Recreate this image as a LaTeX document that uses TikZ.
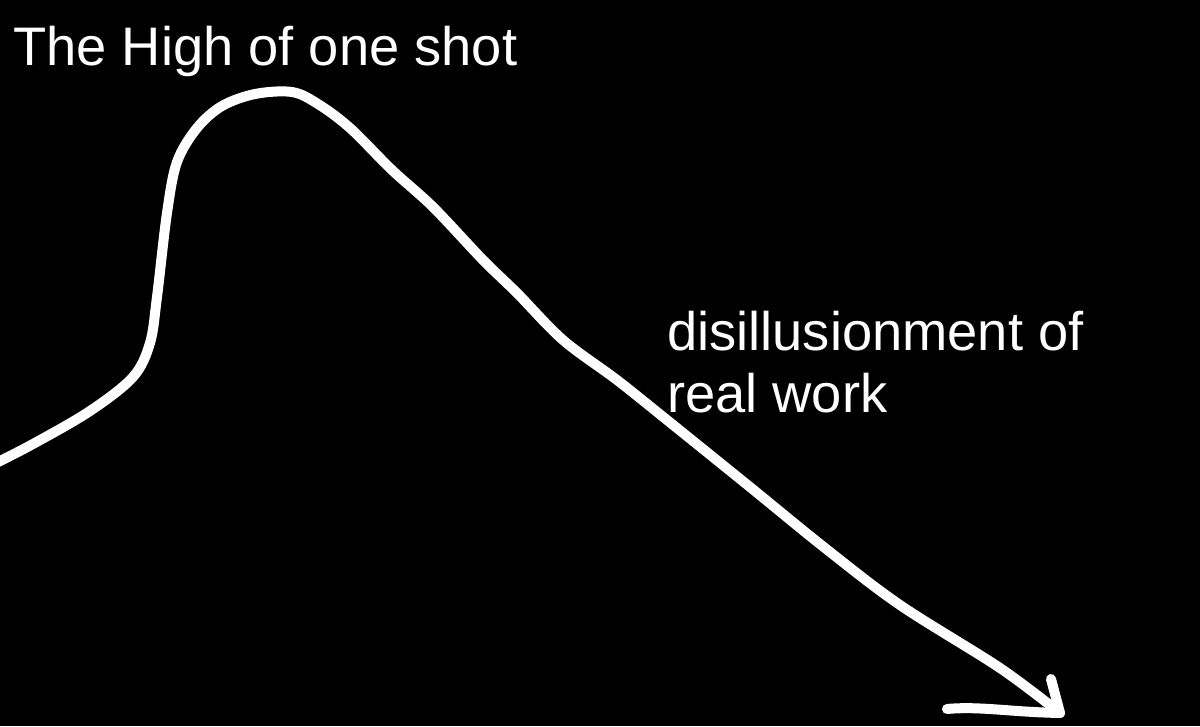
\documentclass[tikz,border=0pt]{standalone}
\usepackage{fontspec}
\setmainfont{Liberation Sans}
\usepackage{xcolor}
\usepackage{tikz}
\usetikzlibrary{positioning}
\definecolor{boardblack}{HTML}{000000}
\definecolor{chalkwhite}{HTML}{FFFFFF}
\tikzset{
  sketchline/.style={draw=chalkwhite, line width=10pt, line cap=round, line join=round},
  sketchtext/.style={text=chalkwhite, inner sep=0pt, font=\fontsize{54.3}{62}\selectfont}
}

\begin{document}
\begin{tikzpicture}[x=1pt,y=-1pt]
\fill[boardblack] (0,0) rectangle (1200,726);
\useasboundingbox (0,0) rectangle (1200,726);

\node[sketchtext, anchor=base west] (highlabel) at (13,65) {The High of one shot};
\node[sketchtext, anchor=base west, align=left] (worklabel) at (667,412) {disillusionment of\\real work};

% the hype curve
\coordinate (tip) at (1060,713);
\draw[sketchline] plot[smooth, tension=0.55] coordinates {
  (-6,464) (33,444) (90,411) (133,377) (150,343) (157,297) (167,213) (177,162)
  (197,128) (222,106) (255,94) (292,92) (318,104) (350,128) (392,170) (433,207)
  (483,260) (517,293) (563,340) (617,380) (667,420) (750,487) (825,548)
  (900,605) (1000,668) (1060,713)};
\draw[sketchline] (1051,679) -- (tip) .. controls (1010,712) and (980,706) .. (947,709);
\end{tikzpicture}
\end{document}
